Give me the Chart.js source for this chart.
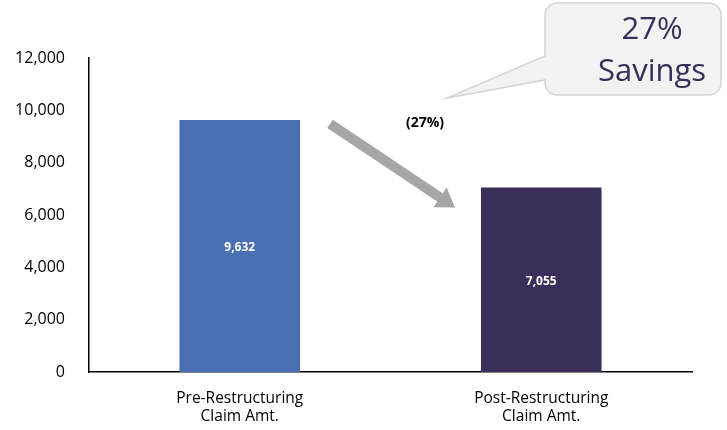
<!DOCTYPE html>
<html>
<head>
<meta charset="utf-8">
<script src="https://cdn.jsdelivr.net/npm/chart.js@4/dist/chart.umd.min.js"></script>
<style>
  html, body { margin: 0; padding: 0; background: #fff; }
  #wrap { width: 727px; height: 430px; }
</style>
</head>
<body>
<div id="wrap"><canvas id="claimChart"></canvas></div>
<script>
const categories = [['Pre-Restructuring', 'Claim Amt.'], ['Post-Restructuring', 'Claim Amt.']];
const claimAmounts = [9632, 7055];
const barColors = ['#4a6fb5', '#3a2f5a'];
const yTicks = [0, 2000, 4000, 6000, 8000, 10000, 12000];
const changeLabel = '(27%)';
const calloutLines = ['27%', 'Savings'];

const fmt = v => v.toLocaleString('en-US');

// value labels in the middle of each bar, the grey arrow and the callout bubble
const annotations = {
  id: 'annotations',
  afterDatasetsDraw(chart) {
    const ctx = chart.ctx;
    const meta = chart.getDatasetMeta(0);
    const y = chart.scales.y;

    ctx.save();
    ctx.fillStyle = '#ffffff';
    ctx.font = 'bold 12px "Open Sans"';
    ctx.textAlign = 'center';
    ctx.textBaseline = 'middle';
    meta.data.forEach((bar, i) => {
      ctx.fillText(fmt(claimAmounts[i]), bar.x, (bar.y + bar.base) / 2 + 2);
    });

    // arrow from the first bar down to the second
    const b0 = meta.data[0], b1 = meta.data[1];
    const x0 = b0.x + b0.width / 2 + 30, y0 = y.getPixelForValue(claimAmounts[0]) + 4;
    const x1 = b1.x - b1.width / 2 - 26, y1 = y.getPixelForValue(claimAmounts[1]) + 20;
    const ang = Math.atan2(y1 - y0, x1 - x0);
    const len = Math.hypot(x1 - x0, y1 - y0);
    ctx.translate(x0, y0);
    ctx.rotate(ang);
    ctx.fillStyle = '#a6a6a6';
    ctx.beginPath();
    ctx.moveTo(0, -5);
    ctx.lineTo(len - 18, -5);
    ctx.lineTo(len - 18, -12);
    ctx.lineTo(len, 0);
    ctx.lineTo(len - 18, 12);
    ctx.lineTo(len - 18, 5);
    ctx.lineTo(0, 5);
    ctx.closePath();
    ctx.fill();
    ctx.setTransform(1, 0, 0, 1, 0, 0);

    ctx.fillStyle = '#000';
    ctx.font = 'bold 14px "Open Sans"';
    ctx.fillText(changeLabel, 425, 123);

    // callout bubble
    const bx = 545, by = 3, bw = 176, bh = 92, r = 12;
    ctx.beginPath();
    ctx.moveTo(bx + r, by);
    ctx.lineTo(bx + bw - r, by);
    ctx.arcTo(bx + bw, by, bx + bw, by + r, r);
    ctx.lineTo(bx + bw, by + bh - r);
    ctx.arcTo(bx + bw, by + bh, bx + bw - r, by + bh, r);
    ctx.lineTo(bx + r, by + bh);
    ctx.arcTo(bx, by + bh, bx, by + bh - r, r);
    ctx.lineTo(bx, 80);
    ctx.lineTo(447, 98);
    ctx.lineTo(bx, 56);
    ctx.lineTo(bx, by + r);
    ctx.arcTo(bx, by, bx + r, by, r);
    ctx.closePath();
    ctx.fillStyle = '#f2f2f2';
    ctx.fill();
    ctx.strokeStyle = '#d4d4d4';
    ctx.lineWidth = 1.5;
    ctx.stroke();

    ctx.fillStyle = '#3a2f5a';
    ctx.font = '31px "Open Sans"';
    ctx.fillText(calloutLines[0], 652, 30);
    ctx.fillText(calloutLines[1], 652, 72);
    ctx.restore();
  }
};

new Chart(document.getElementById('claimChart'), {
  type: 'bar',
  data: {
    labels: categories,
    datasets: [{
      data: claimAmounts,
      backgroundColor: barColors,
      categoryPercentage: 0.8,
      barPercentage: 0.5
    }]
  },
  options: {
    responsive: true,
    maintainAspectRatio: false,
    animation: false,
    events: [],
    layout: { padding: { top: 58, right: 35, left: 0, bottom: 0 } },
    plugins: { legend: { display: false }, tooltip: { enabled: false } },
    scales: {
      x: {
        grid: { display: false, drawTicks: false },
        border: { display: true, color: '#000', width: 1.5 },
        ticks: { color: '#000', font: { family: 'Open Sans', size: 15.5, lineHeight: 1.2 }, padding: 17 },
        afterFit(scale) { scale.height = 58; }
      },
      y: {
        min: 0,
        max: 12000,
        grid: { display: false, drawTicks: false },
        border: { display: true, color: '#000', width: 1.5 },
        afterBuildTicks(scale) { scale.ticks = yTicks.map(v => ({ value: v })); },
        ticks: {
          color: '#000',
          font: { family: 'Open Sans', size: 16 },
          padding: 24,
          callback: v => fmt(v)
        },
        afterFit(scale) { scale.width = 89; }
      }
    }
  },
  plugins: [annotations]
});
</script>
</body>
</html>
